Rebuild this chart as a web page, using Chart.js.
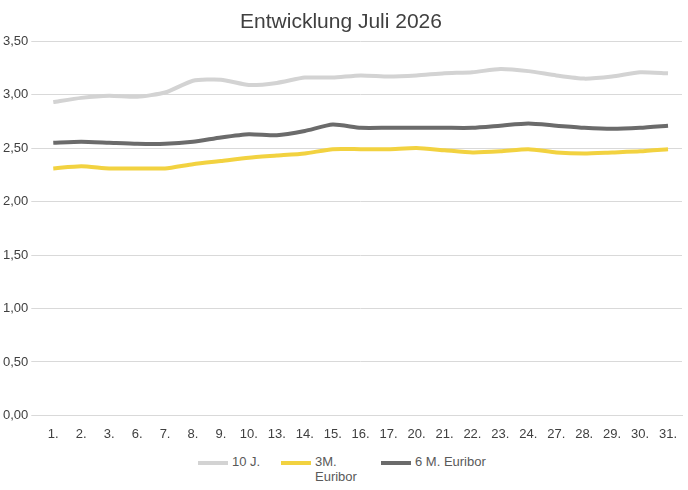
<!DOCTYPE html>
<html><head><meta charset="utf-8">
<script src="https://cdn.jsdelivr.net/npm/chart.js@4"></script>
<style>
body{margin:0;background:#fff;font-family:"Liberation Sans",Arial,sans-serif}
#wrap{position:relative;width:688px;height:445px}
#leg{position:absolute;top:454px;left:0;width:688px;font-size:13px;color:#595959}
.it{position:absolute;display:flex;align-items:flex-start}
.sw{width:30px;height:4px;margin-top:7px;margin-right:4px}
</style></head><body>
<div id="wrap"><canvas id="c" width="688" height="445"></canvas></div>
<div id="leg">
<div class="it" style="left:198px"><div class="sw" style="background:#d3d3d3"></div><div>10 J.</div></div>
<div class="it" style="left:281px"><div class="sw" style="background:#f2d240"></div><div>3M.<br>Euribor</div></div>
<div class="it" style="left:381px"><div class="sw" style="background:#6b6b6b"></div><div>6 M. Euribor</div></div>
</div>
<script>
const categories=["1.","2.","3.","6.","7.","8.","9.","10.","13.","14.","15.","16.","17.","20.","21.","22.","23.","24.","27.","28.","29.","30.","31."];
const tenY=[2.93,2.97,2.99,2.98,3.02,3.13,3.14,3.09,3.11,3.16,3.16,3.18,3.17,3.18,3.20,3.21,3.24,3.22,3.18,3.15,3.17,3.21,3.20];
const m3=[2.31,2.33,2.31,2.31,2.31,2.35,2.38,2.41,2.43,2.45,2.49,2.49,2.49,2.50,2.48,2.46,2.47,2.49,2.46,2.45,2.46,2.47,2.49];
const m6=[2.55,2.56,2.55,2.54,2.54,2.56,2.60,2.63,2.62,2.66,2.72,2.69,2.69,2.69,2.69,2.69,2.71,2.73,2.71,2.69,2.68,2.69,2.71];
const ds=(l,d,c)=>({label:l,data:d,borderColor:c,backgroundColor:c,borderWidth:4,pointRadius:0,tension:0.2,fill:false});
new Chart(document.getElementById('c'),{type:'line',
data:{labels:categories,datasets:[ds('10 J.',tenY,'#d3d3d3'),ds('3M. Euribor',m3,'#f2d240'),ds('6 M. Euribor',m6,'#6b6b6b')]},
options:{responsive:false,animation:false,
layout:{padding:{left:0,right:6,top:8,bottom:0}},
plugins:{legend:{display:false},title:{display:true,text:'Entwicklung Juli 2026',color:'#404040',font:{size:21,weight:'normal',family:'Liberation Sans'},padding:{top:2,bottom:6}}},
scales:{x:{offset:true,grid:{display:false},border:{color:'#d9d9d9'},ticks:{color:'#404040',font:{size:13},maxRotation:0,autoSkip:false}},
y:{min:0,max:3.5,border:{display:false},grid:{color:'#d9d9d9'},ticks:{stepSize:0.5,color:'#404040',font:{size:13},callback:v=>v.toFixed(2).replace('.',',')}}}}});
</script></body></html>
